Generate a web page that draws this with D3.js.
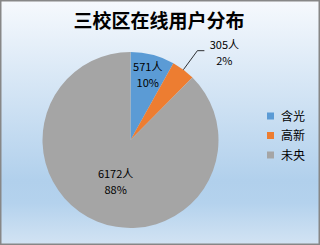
<html>
<head>
    <script src="https://d3js.org/d3.v7.min.js"></script>
    <style>
        body { margin: 0; }
        text { font-family: "Noto Sans CJK SC", "DejaVu Sans", sans-serif; }
    </style>
</head>
<body>
    <div id="chart">
        <svg width="320" height="245"></svg>
    </div>
    <script>
        // 数据
        var campuses = ['含光', '高新', '未央']
        var users = [571, 305, 6172]
        var pctLabels = ['10%', '2%', '88%']
        var colors = ['#5b9bd5', '#ed7d31', '#a5a5a5']

        var svg = d3.select('#chart svg')
        var cx = 130.5, cy = 140, r = 88

        // 背景渐变
        var grad = svg.append('defs').append('linearGradient')
            .attr('id', 'bg')
            .attr('x1', 0).attr('y1', 0).attr('x2', 0).attr('y2', 1)
        grad.append('stop').attr('offset', '0%').attr('stop-color', '#f6f9fd')
        grad.append('stop').attr('offset', '74%').attr('stop-color', '#b1d0ec')
        grad.append('stop').attr('offset', '83%').attr('stop-color', '#b4d2ed')
        grad.append('stop').attr('offset', '100%').attr('stop-color', '#d2e3f3')

        svg.append('rect')
            .attr('x', 0.75).attr('y', 0.75)
            .attr('width', 318.5).attr('height', 243.5)
            .attr('fill', 'url(#bg)')
            .attr('stroke', '#878787')
            .attr('stroke-width', 1.5)

        svg.append('text')
            .attr('x', 159)
            .attr('y', 28)
            .attr('text-anchor', 'middle')
            .style('font-size', '19px')
            .style('font-weight', 'bold')
            .text('三校区在线用户分布')

        var pie = d3.pie().sort(null).value(function(d) { return d })
        var arcs = pie(users)
        var arc = d3.arc().innerRadius(0).outerRadius(r)

        var g = svg.append('g').attr('transform', 'translate(' + cx + ',' + cy + ')')
        g.selectAll('path')
            .data(arcs)
            .enter()
            .append('path')
            .attr('d', arc)
            .attr('fill', function(d, i) { return colors[i] })

        // 标签位置（半径比例）
        var labelR = [0.78 * r, null, 0.5 * r]
        function mid(d) { return (d.startAngle + d.endAngle) / 2 }

        arcs.forEach(function(d, i) {
            var a = mid(d), x, y
            if (labelR[i] !== null) {
                var lr = labelR[i]
                if (i === 2) a = a - 0.045
                x = Math.sin(a) * lr
                y = -Math.cos(a) * lr
            } else {
                // 外部标签 + 引线
                var px = Math.sin(a) * r, py = -Math.cos(a) * r
                var ex = px + 14, ey = py - 19
                g.append('polyline')
                    .attr('points', [[px, py], [ex, ey], [ex + 7, ey]].map(function(p) { return p.join(',') }).join(' '))
                    .attr('fill', 'none')
                    .attr('stroke', '#000')
                    .attr('stroke-width', 0.8)
                x = ex + 27
                y = ey + 1
            }
            var t = g.append('text')
                .attr('text-anchor', 'middle')
                .style('font-size', '11px')
            t.append('tspan').attr('x', x).attr('y', y - 3).text(users[i] + '人')
            t.append('tspan').attr('x', x).attr('y', y + 13).text(pctLabels[i])
        })

        // 图例
        var legend = svg.append('g').attr('transform', 'translate(267,116)')
        var items = legend.selectAll('g')
            .data(campuses)
            .enter()
            .append('g')
            .attr('transform', function(d, i) { return 'translate(0,' + (i * 19.5) + ')' })
        items.append('rect')
            .attr('x', 0).attr('y', -3.5)
            .attr('width', 7).attr('height', 7)
            .attr('fill', function(d, i) { return colors[i] })
        items.append('text')
            .attr('x', 14)
            .attr('y', 4.5)
            .style('font-size', '12px')
            .text(function(d) { return d })
    </script>
</body>
</html>
